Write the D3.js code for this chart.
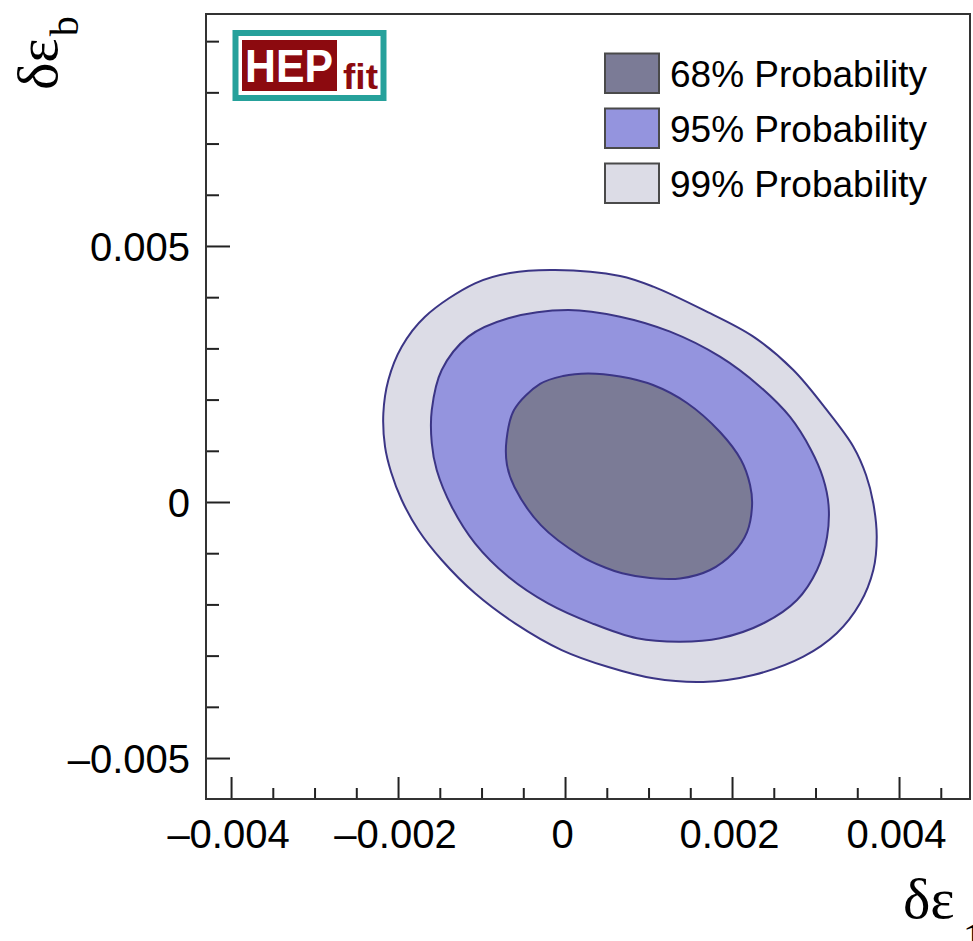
<!DOCTYPE html>
<html>
<head>
<meta charset="utf-8">
<script src="https://cdn.jsdelivr.net/npm/d3@7"></script>
<style>
  html, body { margin: 0; padding: 0; background: #fff; }
  svg { display: block; }
</style>
</head>
<body>
<svg id="chart" width="973" height="941"></svg>
<script>
// Posterior contours of (δε1, δεb): 99%, 95% and 68% probability regions
const contour99 = [
  [-0.00012, 0.004531], [0.000659, 0.004414], [0.001057, 0.004205], [0.001656, 0.003750],
  [0.002255, 0.003229], [0.002734, 0.002578], [0.003134, 0.001797], [0.003453, 0.001080],
  [0.003605, 0.000527], [0.003692, -0.000025], [0.003733, -0.000678], [0.003692, -0.001328],
  [0.003533, -0.001979], [0.003254, -0.002564], [0.002854, -0.003021], [0.002255, -0.003379],
  [0.001656, -0.003514], [0.001057, -0.003443], [0.000519, -0.003223],
  [-0.00004, -0.002891], [-0.000599, -0.002369], [-0.001078, -0.001783], [-0.001477, -0.001133],
  [-0.001757, -0.000547], [-0.001956, 0.000039], [-0.002084, 0.000586], [-0.002156, 0.001080],
  [-0.002176, 0.001732], [-0.002116, 0.002383], [-0.001956, 0.003033], [-0.001677, 0.003619],
  [-0.001078, 0.004271], [-0.000659, 0.004473]
];
const contour95 = [
  [0.000036, 0.003750], [0.000659, 0.003619], [0.001258, 0.003326], [0.001856, 0.002838],
  [0.002335, 0.002252], [0.002695, 0.001660], [0.002946, 0.001016], [0.003090, 0.000469],
  [0.003156, -0.000059], [0.003138, -0.000684], [0.003018, -0.001328], [0.002778, -0.001914],
  [0.002383, -0.002363], [0.001856, -0.002662], [0.001377, -0.002729], [0.000862, -0.002662],
  [0.000323, -0.002369], [-0.000204, -0.001979], [-0.000679, -0.001459],
  [-0.001078, -0.000807], [-0.001357, -0.000092], [-0.001537, 0.000625], [-0.001596, 0.001147],
  [-0.001596, 0.001797], [-0.001477, 0.002578], [-0.001158, 0.003229], [-0.000679, 0.003588]
];
const contour68 = [
  [0.000275, 0.002510], [0.000659, 0.002451], [0.001054, 0.002285], [0.001461, 0.001934],
  [0.001856, 0.001367], [0.002108, 0.000820], [0.002216, 0.000332], [0.002240, -0.000059],
  [0.002180, -0.000586], [0.002012, -0.000996], [0.001737, -0.001328], [0.001377, -0.001494],
  [0.001018, -0.001484], [0.000684, -0.001391], [0.000479, -0.001279], [0.000192, -0.001055],
  [-0.000287, -0.000457], [-0.000606, 0.000293], [-0.000696, 0.000731], [-0.000701, 0.001211],
  [-0.000611, 0.001797], [-0.000299, 0.002305], [-0.000024, 0.002461]
];

const levelNames = ["68% Probability", "95% Probability", "99% Probability"];
const levelColors = ["#7b7b96", "#9494de", "#dcdce6"];

const xMajorTicks = [-0.004, -0.002, 0, 0.002, 0.004];
const xTickLabels = ["–0.004", "–0.002", "0", "0.002", "0.004"];
const xMinorTicks = [-0.0035, -0.003, -0.0025, -0.0015, -0.001, -0.0005,
                     0.0005, 0.001, 0.0015, 0.0025, 0.003, 0.0035, 0.0045];
const yMajorTicks = [-0.005, 0, 0.005];
const yTickLabels = ["–0.005", "0", "0.005"];
const yMinorTicks = [-0.004, -0.003, -0.002, -0.001, 0.001, 0.002, 0.003, 0.004,
                     0.006, 0.007, 0.008, 0.009];

const svg = d3.select("#chart");
const frameL = 206, frameR = 970, frameT = 14, frameB = 799;

const x = d3.scaleLinear().domain([-0.0043, 0.00485]).range([frameL, frameR]);
const y = d3.scaleLinear().domain([-0.0058, 0.00953]).range([frameB, frameT]);

const line = d3.line()
  .x(d => x(d[0]))
  .y(d => y(d[1]))
  .curve(d3.curveCatmullRomClosed.alpha(0.5));

const plot = svg.append("g");
const regions = [
  { pts: contour99, color: levelColors[2] },
  { pts: contour95, color: levelColors[1] },
  { pts: contour68, color: levelColors[0] }
];
plot.selectAll("path.region")
  .data(regions)
  .join("path")
  .attr("class", "region")
  .attr("d", d => line(d.pts))
  .attr("fill", d => d.color)
  .attr("stroke", "#3b3585")
  .attr("stroke-width", 2)
  .attr("stroke-linejoin", "round");

// axes: ticks point into the frame
const tickFont = "'Liberation Sans', Arial, Helvetica, sans-serif";

const xMajor = svg.append("g")
  .attr("transform", `translate(0,${frameB})`)
  .call(d3.axisBottom(x).tickValues(xMajorTicks)
    .tickFormat((d, i) => xTickLabels[i])
    .tickSizeInner(-22).tickSizeOuter(0).tickPadding(21));
const xMinor = svg.append("g")
  .attr("transform", `translate(0,${frameB})`)
  .call(d3.axisBottom(x).tickValues(xMinorTicks).tickFormat("")
    .tickSizeInner(-11).tickSizeOuter(0));
const yMajor = svg.append("g")
  .attr("transform", `translate(${frameL},0)`)
  .call(d3.axisLeft(y).tickValues(yMajorTicks)
    .tickFormat((d, i) => yTickLabels[i])
    .tickSizeInner(-24).tickSizeOuter(0).tickPadding(16));
const yMinor = svg.append("g")
  .attr("transform", `translate(${frameL},0)`)
  .call(d3.axisLeft(y).tickValues(yMinorTicks).tickFormat("")
    .tickSizeInner(-13).tickSizeOuter(0));

[xMajor, xMinor, yMajor, yMinor].forEach(g => {
  g.select(".domain").remove();
  g.selectAll(".tick line").attr("stroke", "#222").attr("stroke-width", 2);
  g.selectAll(".tick text")
    .attr("font-family", tickFont)
    .attr("font-size", 40)
    .attr("fill", "#000");
});
xMajor.selectAll(".tick text").attr("dx", -3);
yMajor.selectAll(".tick text").attr("dy", "0.36em");

// frame
svg.append("rect")
  .attr("x", frameL).attr("y", frameT)
  .attr("width", frameR - frameL).attr("height", frameB - frameT)
  .attr("fill", "none").attr("stroke", "#333").attr("stroke-width", 2);

// axis titles
const serif = "'Liberation Serif', 'Times New Roman', serif";
const xt = svg.append("text")
  .attr("x", 903).attr("y", 918)
  .attr("font-family", serif).attr("font-size", 58).attr("fill", "#000");
xt.append("tspan").text("δε");
xt.append("tspan").attr("dx", 8).attr("dy", 34).attr("font-size", 42).text("1");

const yt = svg.append("text")
  .attr("transform", "translate(57,90) rotate(-90)")
  .attr("font-family", serif).attr("font-size", 58).attr("fill", "#000");
yt.append("tspan").text("δε");
yt.append("tspan").attr("dx", 2).attr("dy", 21).attr("font-size", 40).text("b");

// HEPfit logo
const logo = svg.append("g");
logo.append("rect")
  .attr("x", 235.5).attr("y", 33).attr("width", 148).attr("height", 65)
  .attr("fill", "#fff").attr("stroke", "#26a19b").attr("stroke-width", 6);
logo.append("rect")
  .attr("x", 242).attr("y", 40).attr("width", 95).attr("height", 51)
  .attr("fill", "#8c0a0f");
logo.append("text")
  .attr("x", 245).attr("y", 81.5)
  .attr("font-family", tickFont).attr("font-weight", "bold")
  .attr("font-size", 47).attr("fill", "#fff")
  .attr("textLength", 88).attr("lengthAdjust", "spacingAndGlyphs")
  .text("HEP");
logo.append("text")
  .attr("x", 343).attr("y", 89)
  .attr("font-family", tickFont).attr("font-weight", "bold")
  .attr("font-size", 35).attr("fill", "#8c0a0f")
  .attr("textLength", 35).attr("lengthAdjust", "spacingAndGlyphs")
  .text("fit");

// legend
const legend = svg.append("g");
const rows = legend.selectAll("g.row")
  .data(levelNames.map((name, i) => ({ name, color: levelColors[i], i })))
  .join("g")
  .attr("class", "row")
  .attr("transform", d => `translate(605,${53.5 + d.i * 55})`);
rows.append("rect")
  .attr("width", 54).attr("height", 39.5)
  .attr("fill", d => d.color)
  .attr("stroke", "#4a4a4a").attr("stroke-width", 2);
rows.append("text")
  .attr("x", 65).attr("y", 33)
  .attr("font-family", tickFont).attr("font-size", 37).attr("fill", "#000")
  .text(d => d.name);
</script>
</body>
</html>
